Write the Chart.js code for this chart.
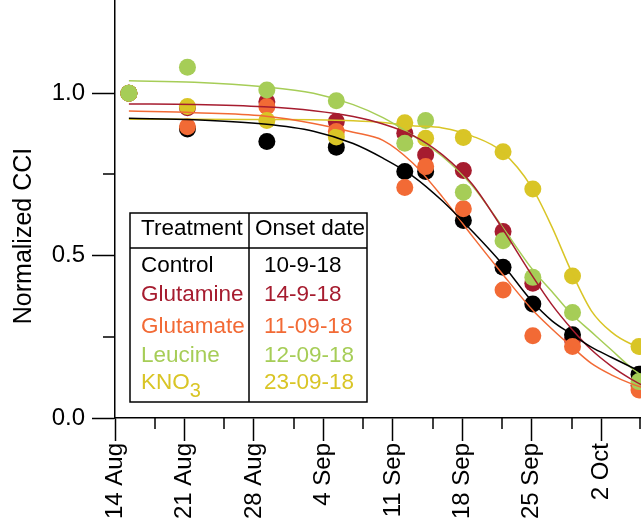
<!DOCTYPE html>
<html>
<head>
<meta charset="utf-8">
<script src="https://cdn.jsdelivr.net/npm/chart.js@4.4.1/dist/chart.umd.min.js"></script>
<style>
  html, body { margin: 0; padding: 0; background: #fff; }
  #wrap { width: 641px; height: 520px; }
</style>
</head>
<body>
<div id="wrap"><canvas id="chart" width="641" height="520"></canvas></div>
<script>
const FONT = '"Liberation Sans", Arial, Helvetica, sans-serif';

// days counted from 14 Aug
const sampleDays = [1.4, 7.3, 15.3, 22.3, 29.2, 31.3, 35.1, 39.1, 42.1, 46.1, 52.8];

const controlCCI   = [1.0, 0.89, 0.851, 0.834, 0.759, 0.759, 0.608, 0.464, 0.351, 0.256, 0.135];
const glutamineCCI = [1.0, 0.955, 0.974, 0.913, 0.877, 0.81, 0.762, 0.574, 0.415, 0.24, 0.10];
const glutamateCCI = [1.0, 0.897, 0.959, 0.882, 0.71, 0.774, 0.644, 0.394, 0.253, 0.22, 0.086];
const leucineCCI   = [1.0, 1.08, 1.01, 0.977, 0.846, 0.916, 0.695, 0.546, 0.433, 0.325, 0.112];
const kno3CCI      = [1.0, 0.959, 0.916, 0.865, 0.909, 0.861, 0.864, 0.82, 0.705, 0.437, 0.22];

// fitted curves
const curveDays    = [1.4, 8, 15, 20, 24, 27, 30, 33, 36, 39, 42, 44, 46, 48, 50, 52, 53.5];
const controlFit   = [0.923, 0.918, 0.905, 0.883, 0.845, 0.80, 0.745, 0.668, 0.575, 0.475, 0.36, 0.30, 0.258, 0.218, 0.187, 0.157, 0.135];
const glutamineFit = [0.967, 0.965, 0.958, 0.946, 0.928, 0.905, 0.87, 0.81, 0.72, 0.585, 0.44, 0.35, 0.275, 0.21, 0.16, 0.12, 0.095];
const glutamateFit = [0.945, 0.94, 0.93, 0.907, 0.88, 0.855, 0.785, 0.68, 0.56, 0.445, 0.335, 0.275, 0.22, 0.168, 0.133, 0.106, 0.09];
const leucineFit   = [1.038, 1.034, 1.02, 1.0, 0.965, 0.925, 0.87, 0.805, 0.715, 0.59, 0.46, 0.39, 0.32, 0.265, 0.21, 0.155, 0.12];
const kno3Fit      = [0.92, 0.92, 0.919, 0.918, 0.915, 0.91, 0.90, 0.893, 0.868, 0.82, 0.71, 0.59, 0.45, 0.33, 0.265, 0.228, 0.215];

const treatments = ['Control', 'Glutamine', 'Glutamate', 'Leucine', 'KNO3'];
const onsetDates = ['10-9-18', '14-9-18', '11-09-18', '12-09-18', '23-09-18'];
const colours    = ['#000000', '#a61c2f', '#f26a35', '#a6cd57', '#d9c526'];

const xTickDays   = [0, 7, 14, 21, 28, 35, 42, 49];
const xTickLabels = ['14 Aug', '21 Aug', '28 Aug', '4 Sep', '11 Sep', '18 Sep', '25 Sep', '2 Oct'];
const xMinorDays  = [4, 11, 18, 25, 32, 39, 46, 53];
const yTicks      = [0, 0.5, 1.0];
const yMinor      = [0.25, 0.75];

const pointSets = [controlCCI, glutamineCCI, glutamateCCI, leucineCCI, kno3CCI];
const fitSets   = [controlFit, glutamineFit, glutamateFit, leucineFit, kno3Fit];
// stacking of the markers: green on top, red at the bottom
const pointOrder = [13, 14, 12, 10, 11];

const datasets = [];
treatments.forEach((name, i) => {
  datasets.push({
    label: name + ' fit',
    data: curveDays.map((d, k) => ({ x: d, y: fitSets[i][k] })),
    showLine: true,
    borderColor: colours[i],
    borderWidth: 1.5,
    pointRadius: 0,
    cubicInterpolationMode: 'monotone',
    order: i
  });
  datasets.push({
    label: name,
    data: sampleDays.map((d, k) => ({ x: d, y: pointSets[i][k] })),
    backgroundColor: colours[i],
    borderWidth: 0,
    pointRadius: 8.5,
    pointHoverRadius: 8.5,
    clip: false,
    order: pointOrder[i]
  });
});

const minorTicks = {
  id: 'minorTicks',
  afterDraw(chart) {
    const { ctx, scales: { x, y } } = chart;
    ctx.save();
    ctx.strokeStyle = '#000';
    ctx.lineWidth = 1.5;
    ctx.beginPath();
    xMinorDays.forEach(v => {
      const px = Math.min(Math.round(x.getPixelForValue(v)), chart.width - 1);
      ctx.moveTo(px, x.top);
      ctx.lineTo(px, x.top + 11);
    });
    yMinor.forEach(v => {
      const py = Math.round(y.getPixelForValue(v));
      ctx.moveTo(y.right - 12, py);
      ctx.lineTo(y.right, py);
    });
    ctx.stroke();
    ctx.restore();
  }
};

const yTitle = {
  id: 'yTitle',
  afterDraw(chart) {
    const ctx = chart.ctx;
    ctx.save();
    ctx.translate(24, 236);
    ctx.rotate(-Math.PI / 2);
    ctx.font = '25px ' + FONT;
    ctx.fillStyle = '#000';
    ctx.textAlign = 'center';
    ctx.textBaseline = 'middle';
    ctx.fillText('Normalized CCI', 0, 0);
    ctx.restore();
  }
};

const onsetTable = {
  id: 'onsetTable',
  afterDraw(chart) {
    const ctx = chart.ctx;
    const left = 130, top = 213, right = 367, bottom = 402, split = 249, headLine = 248;
    ctx.save();
    ctx.fillStyle = '#fff';
    ctx.fillRect(left, top, right - left, bottom - top);
    ctx.strokeStyle = '#000';
    ctx.lineWidth = 1.5;
    ctx.strokeRect(left, top, right - left, bottom - top);
    ctx.beginPath();
    ctx.moveTo(split, top); ctx.lineTo(split, bottom);
    ctx.moveTo(left, headLine); ctx.lineTo(right, headLine);
    ctx.stroke();

    ctx.font = '22.5px ' + FONT;
    ctx.textBaseline = 'middle';
    ctx.textAlign = 'left';
    ctx.fillStyle = '#000';
    ctx.fillText('Treatment', 141, 229);
    ctx.fillText('Onset date', 255, 229);

    const rowY = [266, 295, 327, 356, 383];
    treatments.forEach((name, i) => {
      ctx.fillStyle = colours[i];
      ctx.font = '22.5px ' + FONT;
      if (name === 'KNO3') {
        ctx.fillText('KNO', 141, rowY[i]);
        const w = ctx.measureText('KNO').width;
        ctx.font = '20px ' + FONT;
        ctx.fillText('3', 141 + w, rowY[i] + 8);
        ctx.font = '22.5px ' + FONT;
      } else {
        ctx.fillText(name, 141, rowY[i]);
      }
      ctx.fillText(onsetDates[i], 264, rowY[i]);
    });
    ctx.restore();
  }
};

new Chart(document.getElementById('chart'), {
  type: 'scatter',
  data: { datasets },
  options: {
    responsive: false,
    animation: false,
    events: [],
    layout: { padding: 0, autoPadding: false },
    plugins: { legend: { display: false }, tooltip: { enabled: false } },
    scales: {
      x: {
        type: 'linear',
        min: 0,
        max: 53,
        afterBuildTicks: s => { s.ticks = xTickDays.map(v => ({ value: v })); },
        afterFit: s => { s.height = 102; s.paddingLeft = 0; s.paddingRight = 0; },
        border: { display: true, color: '#000', width: 1.5 },
        grid: { drawOnChartArea: false, tickLength: 23, tickColor: '#000', tickWidth: 1.5, color: '#000' },
        ticks: {
          autoSkip: false,
          minRotation: 90,
          maxRotation: 90,
          padding: 2,
          color: '#000',
          font: { family: FONT, size: 24 },
          callback: v => xTickLabels[xTickDays.indexOf(v)]
        }
      },
      y: {
        type: 'linear',
        min: 0,
        max: 1.287,
        afterBuildTicks: s => { s.ticks = yTicks.map(v => ({ value: v })); },
        afterFit: s => { s.width = 115; s.paddingTop = 0; s.paddingBottom = 0; },
        border: { display: true, color: '#000', width: 1.5 },
        grid: { drawOnChartArea: false, tickLength: 23, tickColor: '#000', tickWidth: 1.5, color: '#000' },
        ticks: {
          padding: 7,
          color: '#000',
          font: { family: FONT, size: 24 },
          callback: v => v.toFixed(1)
        }
      }
    }
  },
  plugins: [minorTicks, yTitle, onsetTable]
});
</script>
</body>
</html>
